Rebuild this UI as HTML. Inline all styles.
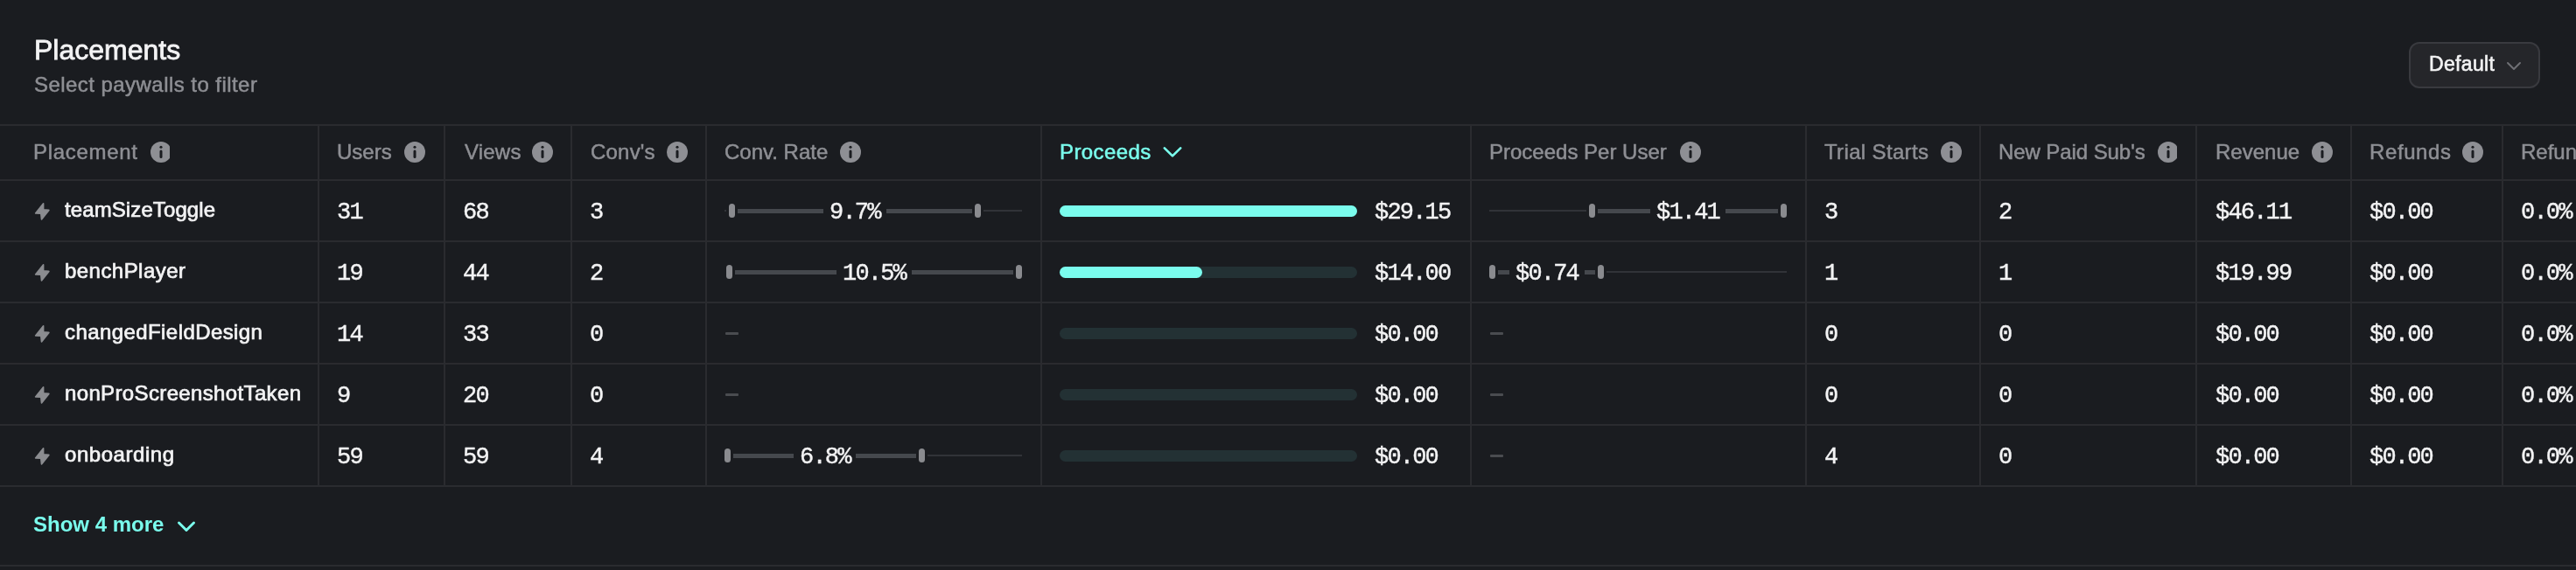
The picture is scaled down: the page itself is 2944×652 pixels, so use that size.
<!DOCTYPE html>
<html><head><meta charset="utf-8"><title>Placements</title>
<style>
html,body{margin:0;padding:0;background:#1a1c20;}
body{width:2944px;height:652px;overflow:hidden;position:relative;font-family:'Liberation Sans', sans-serif;}
.t{position:absolute;white-space:nowrap;will-change:transform;}
.r{position:absolute;display:block;}
</style></head><body>
<div class="t" style="left:38.5px;top:40.71px;font-size:32px;line-height:32px;color:#f3f3f4;font-family:'Liberation Sans', sans-serif;font-weight:normal;letter-spacing:0px;-webkit-text-stroke:0.8px #f3f3f4;">Placements</div>
<div class="t" style="left:38.5px;top:84.68px;font-size:24px;line-height:24px;color:#8e8f94;font-family:'Liberation Sans', sans-serif;font-weight:normal;letter-spacing:0.45px;-webkit-text-stroke:0.5px #8e8f94;">Select paywalls to filter</div>
<div class="r" style="left:2753px;top:48px;width:150px;height:53px;box-sizing:border-box;border:2px solid #393a3f;background:#25262a;border-radius:12px"></div>
<div class="t" style="left:2775.5px;top:61.93px;font-size:23px;line-height:23px;color:#f3f3f4;font-family:'Liberation Sans', sans-serif;font-weight:normal;letter-spacing:0.35px;-webkit-text-stroke:0.6px #f3f3f4;">Default</div>
<svg class="r" style="left:2862px;top:68px" width="22" height="16" viewBox="0 0 22 16"><polyline points="4,4 11,11 18,4" fill="none" stroke="#6e6f74" stroke-width="2" stroke-linecap="round" stroke-linejoin="round"/></svg>
<div class="r" style="left:0px;top:142px;width:2944px;height:2px;background:#2a2b2f;border-radius:0px;"></div>
<div class="r" style="left:0px;top:205px;width:2944px;height:2px;background:#2a2b2f;border-radius:0px;"></div>
<div class="r" style="left:0px;top:275px;width:2944px;height:2px;background:#2a2b2f;border-radius:0px;"></div>
<div class="r" style="left:0px;top:345px;width:2944px;height:2px;background:#2a2b2f;border-radius:0px;"></div>
<div class="r" style="left:0px;top:415px;width:2944px;height:2px;background:#2a2b2f;border-radius:0px;"></div>
<div class="r" style="left:0px;top:485px;width:2944px;height:2px;background:#2a2b2f;border-radius:0px;"></div>
<div class="r" style="left:0px;top:555px;width:2944px;height:2px;background:#2a2b2f;border-radius:0px;"></div>
<div class="r" style="left:0px;top:646px;width:2944px;height:2px;background:#2a2b2f;border-radius:0px;"></div>
<div class="r" style="left:363px;top:144px;width:2px;height:411px;background:#2a2b2f;border-radius:0px;"></div>
<div class="r" style="left:507px;top:144px;width:2px;height:411px;background:#2a2b2f;border-radius:0px;"></div>
<div class="r" style="left:652px;top:144px;width:2px;height:411px;background:#2a2b2f;border-radius:0px;"></div>
<div class="r" style="left:806px;top:144px;width:2px;height:411px;background:#2a2b2f;border-radius:0px;"></div>
<div class="r" style="left:1189px;top:144px;width:2px;height:411px;background:#2a2b2f;border-radius:0px;"></div>
<div class="r" style="left:1680px;top:144px;width:2px;height:411px;background:#2a2b2f;border-radius:0px;"></div>
<div class="r" style="left:2063px;top:144px;width:2px;height:411px;background:#2a2b2f;border-radius:0px;"></div>
<div class="r" style="left:2262px;top:144px;width:2px;height:411px;background:#2a2b2f;border-radius:0px;"></div>
<div class="r" style="left:2509px;top:144px;width:2px;height:411px;background:#2a2b2f;border-radius:0px;"></div>
<div class="r" style="left:2686px;top:144px;width:2px;height:411px;background:#2a2b2f;border-radius:0px;"></div>
<div class="r" style="left:2859px;top:144px;width:2px;height:411px;background:#2a2b2f;border-radius:0px;"></div>
<div class="t" style="left:38px;top:161.68px;font-size:24px;line-height:24px;color:#8e8f94;font-family:'Liberation Sans', sans-serif;font-weight:normal;letter-spacing:0.7px;-webkit-text-stroke:0.5px #8e8f94;">Placement</div>
<svg class="r" style="left:172px;top:162px" width="22" height="24" viewBox="0 0 22 24"><circle cx="12" cy="12" r="12" fill="#8e8f94"/><circle cx="12" cy="6.2" r="1.55" fill="#1a1c20"/><line x1="12" y1="11" x2="12" y2="17.5" stroke="#1a1c20" stroke-width="3" stroke-linecap="round"/></svg>
<div class="t" style="left:385px;top:161.68px;font-size:24px;line-height:24px;color:#8e8f94;font-family:'Liberation Sans', sans-serif;font-weight:normal;letter-spacing:0px;-webkit-text-stroke:0.5px #8e8f94;">Users</div>
<svg class="r" style="left:462px;top:162px" width="24" height="24" viewBox="0 0 24 24"><circle cx="12" cy="12" r="12" fill="#8e8f94"/><circle cx="12" cy="6.2" r="1.55" fill="#1a1c20"/><line x1="12" y1="11" x2="12" y2="17.5" stroke="#1a1c20" stroke-width="3" stroke-linecap="round"/></svg>
<div class="t" style="left:530.5px;top:161.68px;font-size:24px;line-height:24px;color:#8e8f94;font-family:'Liberation Sans', sans-serif;font-weight:normal;letter-spacing:0.2px;-webkit-text-stroke:0.5px #8e8f94;">Views</div>
<svg class="r" style="left:608px;top:162px" width="24" height="24" viewBox="0 0 24 24"><circle cx="12" cy="12" r="12" fill="#8e8f94"/><circle cx="12" cy="6.2" r="1.55" fill="#1a1c20"/><line x1="12" y1="11" x2="12" y2="17.5" stroke="#1a1c20" stroke-width="3" stroke-linecap="round"/></svg>
<div class="t" style="left:675px;top:161.68px;font-size:24px;line-height:24px;color:#8e8f94;font-family:'Liberation Sans', sans-serif;font-weight:normal;letter-spacing:0.2px;-webkit-text-stroke:0.5px #8e8f94;">Conv's</div>
<svg class="r" style="left:762px;top:162px" width="24" height="24" viewBox="0 0 24 24"><circle cx="12" cy="12" r="12" fill="#8e8f94"/><circle cx="12" cy="6.2" r="1.55" fill="#1a1c20"/><line x1="12" y1="11" x2="12" y2="17.5" stroke="#1a1c20" stroke-width="3" stroke-linecap="round"/></svg>
<div class="t" style="left:828px;top:161.68px;font-size:24px;line-height:24px;color:#8e8f94;font-family:'Liberation Sans', sans-serif;font-weight:normal;letter-spacing:0px;-webkit-text-stroke:0.5px #8e8f94;">Conv. Rate</div>
<svg class="r" style="left:960px;top:162px" width="24" height="24" viewBox="0 0 24 24"><circle cx="12" cy="12" r="12" fill="#8e8f94"/><circle cx="12" cy="6.2" r="1.55" fill="#1a1c20"/><line x1="12" y1="11" x2="12" y2="17.5" stroke="#1a1c20" stroke-width="3" stroke-linecap="round"/></svg>
<div class="t" style="left:1702px;top:161.68px;font-size:24px;line-height:24px;color:#8e8f94;font-family:'Liberation Sans', sans-serif;font-weight:normal;letter-spacing:0px;-webkit-text-stroke:0.5px #8e8f94;">Proceeds Per User</div>
<svg class="r" style="left:1920px;top:162px" width="24" height="24" viewBox="0 0 24 24"><circle cx="12" cy="12" r="12" fill="#8e8f94"/><circle cx="12" cy="6.2" r="1.55" fill="#1a1c20"/><line x1="12" y1="11" x2="12" y2="17.5" stroke="#1a1c20" stroke-width="3" stroke-linecap="round"/></svg>
<div class="t" style="left:2085px;top:161.68px;font-size:24px;line-height:24px;color:#8e8f94;font-family:'Liberation Sans', sans-serif;font-weight:normal;letter-spacing:0.35px;-webkit-text-stroke:0.5px #8e8f94;">Trial Starts</div>
<svg class="r" style="left:2218px;top:162px" width="24" height="24" viewBox="0 0 24 24"><circle cx="12" cy="12" r="12" fill="#8e8f94"/><circle cx="12" cy="6.2" r="1.55" fill="#1a1c20"/><line x1="12" y1="11" x2="12" y2="17.5" stroke="#1a1c20" stroke-width="3" stroke-linecap="round"/></svg>
<div class="t" style="left:2284px;top:161.68px;font-size:24px;line-height:24px;color:#8e8f94;font-family:'Liberation Sans', sans-serif;font-weight:normal;letter-spacing:-0.08px;-webkit-text-stroke:0.5px #8e8f94;">New Paid Sub's</div>
<svg class="r" style="left:2466px;top:162px" width="22" height="24" viewBox="0 0 22 24"><circle cx="12" cy="12" r="12" fill="#8e8f94"/><circle cx="12" cy="6.2" r="1.55" fill="#1a1c20"/><line x1="12" y1="11" x2="12" y2="17.5" stroke="#1a1c20" stroke-width="3" stroke-linecap="round"/></svg>
<div class="t" style="left:2532px;top:161.68px;font-size:24px;line-height:24px;color:#8e8f94;font-family:'Liberation Sans', sans-serif;font-weight:normal;letter-spacing:0px;-webkit-text-stroke:0.5px #8e8f94;">Revenue</div>
<svg class="r" style="left:2642px;top:162px" width="24" height="24" viewBox="0 0 24 24"><circle cx="12" cy="12" r="12" fill="#8e8f94"/><circle cx="12" cy="6.2" r="1.55" fill="#1a1c20"/><line x1="12" y1="11" x2="12" y2="17.5" stroke="#1a1c20" stroke-width="3" stroke-linecap="round"/></svg>
<div class="t" style="left:2708px;top:161.68px;font-size:24px;line-height:24px;color:#8e8f94;font-family:'Liberation Sans', sans-serif;font-weight:normal;letter-spacing:0.6px;-webkit-text-stroke:0.5px #8e8f94;">Refunds</div>
<svg class="r" style="left:2814px;top:162px" width="24" height="24" viewBox="0 0 24 24"><circle cx="12" cy="12" r="12" fill="#8e8f94"/><circle cx="12" cy="6.2" r="1.55" fill="#1a1c20"/><line x1="12" y1="11" x2="12" y2="17.5" stroke="#1a1c20" stroke-width="3" stroke-linecap="round"/></svg>
<div class="t" style="left:2881px;top:161.68px;font-size:24px;line-height:24px;color:#8e8f94;font-family:'Liberation Sans', sans-serif;font-weight:normal;letter-spacing:0px;-webkit-text-stroke:0.5px #8e8f94;">Refunds Rate</div>
<div class="t" style="left:1211px;top:161.68px;font-size:24px;line-height:24px;color:#7afced;font-family:'Liberation Sans', sans-serif;font-weight:normal;letter-spacing:0.4px;-webkit-text-stroke:0.5px #7afced;">Proceeds</div>
<svg class="r" style="left:1326px;top:164px" width="28" height="20" viewBox="0 0 28 20"><polyline points="4.8,5.4 14,14.4 23.2,5.4" fill="none" stroke="#7afced" stroke-width="2.7" stroke-linecap="round" stroke-linejoin="round"/></svg>
<svg class="r" style="left:34px;top:226px" width="24" height="26" viewBox="0 0 24 26"><polygon points="15.6,6.8 6.6,17.9 12.8,18.3 13.5,25 21.9,14.4 15.6,13.8" fill="#8b8c90" stroke="#8b8c90" stroke-width="1.6" stroke-linejoin="round"/></svg>
<div class="t" style="left:73.5px;top:228.08px;font-size:24px;line-height:24px;color:#f3f3f4;font-family:'Liberation Sans', sans-serif;font-weight:normal;letter-spacing:0.1px;-webkit-text-stroke:0.7px #f3f3f4;">teamSizeToggle</div>
<div class="t" style="left:385px;top:229.52px;font-size:27px;line-height:27px;color:#f3f3f4;font-family:'Liberation Mono', monospace;font-weight:normal;letter-spacing:-1.8px;-webkit-text-stroke:0.4px #f3f3f4;">31</div>
<div class="t" style="left:529px;top:229.52px;font-size:27px;line-height:27px;color:#f3f3f4;font-family:'Liberation Mono', monospace;font-weight:normal;letter-spacing:-1.8px;-webkit-text-stroke:0.4px #f3f3f4;">68</div>
<div class="t" style="left:674px;top:229.52px;font-size:27px;line-height:27px;color:#f3f3f4;font-family:'Liberation Mono', monospace;font-weight:normal;letter-spacing:-1.8px;-webkit-text-stroke:0.4px #f3f3f4;">3</div>
<div class="t" style="left:2085px;top:229.52px;font-size:27px;line-height:27px;color:#f3f3f4;font-family:'Liberation Mono', monospace;font-weight:normal;letter-spacing:-1.8px;-webkit-text-stroke:0.4px #f3f3f4;">3</div>
<div class="t" style="left:2284px;top:229.52px;font-size:27px;line-height:27px;color:#f3f3f4;font-family:'Liberation Mono', monospace;font-weight:normal;letter-spacing:-1.8px;-webkit-text-stroke:0.4px #f3f3f4;">2</div>
<div class="t" style="left:2532px;top:229.52px;font-size:27px;line-height:27px;color:#f3f3f4;font-family:'Liberation Mono', monospace;font-weight:normal;letter-spacing:-1.8px;-webkit-text-stroke:0.4px #f3f3f4;">$46.11</div>
<div class="t" style="left:2708px;top:229.52px;font-size:27px;line-height:27px;color:#f3f3f4;font-family:'Liberation Mono', monospace;font-weight:normal;letter-spacing:-1.8px;-webkit-text-stroke:0.4px #f3f3f4;">$0.00</div>
<div class="t" style="left:2881px;top:229.52px;font-size:27px;line-height:27px;color:#f3f3f4;font-family:'Liberation Mono', monospace;font-weight:normal;letter-spacing:-1.8px;-webkit-text-stroke:0.4px #f3f3f4;">0.0%</div>
<div class="r" style="left:1211px;top:234.5px;width:340px;height:13px;background:#233134;border-radius:6.5px;"></div>
<div class="r" style="left:1211px;top:234.5px;width:340px;height:13px;background:#7afced;border-radius:6.5px;"></div>
<div class="t" style="left:1571px;top:229.52px;font-size:27px;line-height:27px;color:#f3f3f4;font-family:'Liberation Mono', monospace;font-weight:normal;letter-spacing:-1.8px;-webkit-text-stroke:0.4px #f3f3f4;">$29.15</div>
<svg class="r" style="left:34px;top:296px" width="24" height="26" viewBox="0 0 24 26"><polygon points="15.6,6.8 6.6,17.9 12.8,18.3 13.5,25 21.9,14.4 15.6,13.8" fill="#8b8c90" stroke="#8b8c90" stroke-width="1.6" stroke-linejoin="round"/></svg>
<div class="t" style="left:73.5px;top:298.08px;font-size:24px;line-height:24px;color:#f3f3f4;font-family:'Liberation Sans', sans-serif;font-weight:normal;letter-spacing:0.45px;-webkit-text-stroke:0.7px #f3f3f4;">benchPlayer</div>
<div class="t" style="left:385px;top:299.52px;font-size:27px;line-height:27px;color:#f3f3f4;font-family:'Liberation Mono', monospace;font-weight:normal;letter-spacing:-1.8px;-webkit-text-stroke:0.4px #f3f3f4;">19</div>
<div class="t" style="left:529px;top:299.52px;font-size:27px;line-height:27px;color:#f3f3f4;font-family:'Liberation Mono', monospace;font-weight:normal;letter-spacing:-1.8px;-webkit-text-stroke:0.4px #f3f3f4;">44</div>
<div class="t" style="left:674px;top:299.52px;font-size:27px;line-height:27px;color:#f3f3f4;font-family:'Liberation Mono', monospace;font-weight:normal;letter-spacing:-1.8px;-webkit-text-stroke:0.4px #f3f3f4;">2</div>
<div class="t" style="left:2085px;top:299.52px;font-size:27px;line-height:27px;color:#f3f3f4;font-family:'Liberation Mono', monospace;font-weight:normal;letter-spacing:-1.8px;-webkit-text-stroke:0.4px #f3f3f4;">1</div>
<div class="t" style="left:2284px;top:299.52px;font-size:27px;line-height:27px;color:#f3f3f4;font-family:'Liberation Mono', monospace;font-weight:normal;letter-spacing:-1.8px;-webkit-text-stroke:0.4px #f3f3f4;">1</div>
<div class="t" style="left:2532px;top:299.52px;font-size:27px;line-height:27px;color:#f3f3f4;font-family:'Liberation Mono', monospace;font-weight:normal;letter-spacing:-1.8px;-webkit-text-stroke:0.4px #f3f3f4;">$19.99</div>
<div class="t" style="left:2708px;top:299.52px;font-size:27px;line-height:27px;color:#f3f3f4;font-family:'Liberation Mono', monospace;font-weight:normal;letter-spacing:-1.8px;-webkit-text-stroke:0.4px #f3f3f4;">$0.00</div>
<div class="t" style="left:2881px;top:299.52px;font-size:27px;line-height:27px;color:#f3f3f4;font-family:'Liberation Mono', monospace;font-weight:normal;letter-spacing:-1.8px;-webkit-text-stroke:0.4px #f3f3f4;">0.0%</div>
<div class="r" style="left:1211px;top:304.5px;width:340px;height:13px;background:#233134;border-radius:6.5px;"></div>
<div class="r" style="left:1211px;top:304.5px;width:163px;height:13px;background:#7afced;border-radius:6.5px;"></div>
<div class="t" style="left:1571px;top:299.52px;font-size:27px;line-height:27px;color:#f3f3f4;font-family:'Liberation Mono', monospace;font-weight:normal;letter-spacing:-1.8px;-webkit-text-stroke:0.4px #f3f3f4;">$14.00</div>
<svg class="r" style="left:34px;top:366px" width="24" height="26" viewBox="0 0 24 26"><polygon points="15.6,6.8 6.6,17.9 12.8,18.3 13.5,25 21.9,14.4 15.6,13.8" fill="#8b8c90" stroke="#8b8c90" stroke-width="1.6" stroke-linejoin="round"/></svg>
<div class="t" style="left:73.5px;top:368.08px;font-size:24px;line-height:24px;color:#f3f3f4;font-family:'Liberation Sans', sans-serif;font-weight:normal;letter-spacing:0.42px;-webkit-text-stroke:0.7px #f3f3f4;">changedFieldDesign</div>
<div class="t" style="left:385px;top:369.52px;font-size:27px;line-height:27px;color:#f3f3f4;font-family:'Liberation Mono', monospace;font-weight:normal;letter-spacing:-1.8px;-webkit-text-stroke:0.4px #f3f3f4;">14</div>
<div class="t" style="left:529px;top:369.52px;font-size:27px;line-height:27px;color:#f3f3f4;font-family:'Liberation Mono', monospace;font-weight:normal;letter-spacing:-1.8px;-webkit-text-stroke:0.4px #f3f3f4;">33</div>
<div class="t" style="left:674px;top:369.52px;font-size:27px;line-height:27px;color:#f3f3f4;font-family:'Liberation Mono', monospace;font-weight:normal;letter-spacing:-1.8px;-webkit-text-stroke:0.4px #f3f3f4;">0</div>
<div class="t" style="left:2085px;top:369.52px;font-size:27px;line-height:27px;color:#f3f3f4;font-family:'Liberation Mono', monospace;font-weight:normal;letter-spacing:-1.8px;-webkit-text-stroke:0.4px #f3f3f4;">0</div>
<div class="t" style="left:2284px;top:369.52px;font-size:27px;line-height:27px;color:#f3f3f4;font-family:'Liberation Mono', monospace;font-weight:normal;letter-spacing:-1.8px;-webkit-text-stroke:0.4px #f3f3f4;">0</div>
<div class="t" style="left:2532px;top:369.52px;font-size:27px;line-height:27px;color:#f3f3f4;font-family:'Liberation Mono', monospace;font-weight:normal;letter-spacing:-1.8px;-webkit-text-stroke:0.4px #f3f3f4;">$0.00</div>
<div class="t" style="left:2708px;top:369.52px;font-size:27px;line-height:27px;color:#f3f3f4;font-family:'Liberation Mono', monospace;font-weight:normal;letter-spacing:-1.8px;-webkit-text-stroke:0.4px #f3f3f4;">$0.00</div>
<div class="t" style="left:2881px;top:369.52px;font-size:27px;line-height:27px;color:#f3f3f4;font-family:'Liberation Mono', monospace;font-weight:normal;letter-spacing:-1.8px;-webkit-text-stroke:0.4px #f3f3f4;">0.0%</div>
<div class="r" style="left:1211px;top:374.5px;width:340px;height:13px;background:#233134;border-radius:6.5px;"></div>
<div class="t" style="left:1571px;top:369.52px;font-size:27px;line-height:27px;color:#f3f3f4;font-family:'Liberation Mono', monospace;font-weight:normal;letter-spacing:-1.8px;-webkit-text-stroke:0.4px #f3f3f4;">$0.00</div>
<svg class="r" style="left:34px;top:436px" width="24" height="26" viewBox="0 0 24 26"><polygon points="15.6,6.8 6.6,17.9 12.8,18.3 13.5,25 21.9,14.4 15.6,13.8" fill="#8b8c90" stroke="#8b8c90" stroke-width="1.6" stroke-linejoin="round"/></svg>
<div class="t" style="left:73.5px;top:438.08px;font-size:24px;line-height:24px;color:#f3f3f4;font-family:'Liberation Sans', sans-serif;font-weight:normal;letter-spacing:0.36px;-webkit-text-stroke:0.7px #f3f3f4;">nonProScreenshotTaken</div>
<div class="t" style="left:385px;top:439.52px;font-size:27px;line-height:27px;color:#f3f3f4;font-family:'Liberation Mono', monospace;font-weight:normal;letter-spacing:-1.8px;-webkit-text-stroke:0.4px #f3f3f4;">9</div>
<div class="t" style="left:529px;top:439.52px;font-size:27px;line-height:27px;color:#f3f3f4;font-family:'Liberation Mono', monospace;font-weight:normal;letter-spacing:-1.8px;-webkit-text-stroke:0.4px #f3f3f4;">20</div>
<div class="t" style="left:674px;top:439.52px;font-size:27px;line-height:27px;color:#f3f3f4;font-family:'Liberation Mono', monospace;font-weight:normal;letter-spacing:-1.8px;-webkit-text-stroke:0.4px #f3f3f4;">0</div>
<div class="t" style="left:2085px;top:439.52px;font-size:27px;line-height:27px;color:#f3f3f4;font-family:'Liberation Mono', monospace;font-weight:normal;letter-spacing:-1.8px;-webkit-text-stroke:0.4px #f3f3f4;">0</div>
<div class="t" style="left:2284px;top:439.52px;font-size:27px;line-height:27px;color:#f3f3f4;font-family:'Liberation Mono', monospace;font-weight:normal;letter-spacing:-1.8px;-webkit-text-stroke:0.4px #f3f3f4;">0</div>
<div class="t" style="left:2532px;top:439.52px;font-size:27px;line-height:27px;color:#f3f3f4;font-family:'Liberation Mono', monospace;font-weight:normal;letter-spacing:-1.8px;-webkit-text-stroke:0.4px #f3f3f4;">$0.00</div>
<div class="t" style="left:2708px;top:439.52px;font-size:27px;line-height:27px;color:#f3f3f4;font-family:'Liberation Mono', monospace;font-weight:normal;letter-spacing:-1.8px;-webkit-text-stroke:0.4px #f3f3f4;">$0.00</div>
<div class="t" style="left:2881px;top:439.52px;font-size:27px;line-height:27px;color:#f3f3f4;font-family:'Liberation Mono', monospace;font-weight:normal;letter-spacing:-1.8px;-webkit-text-stroke:0.4px #f3f3f4;">0.0%</div>
<div class="r" style="left:1211px;top:444.5px;width:340px;height:13px;background:#233134;border-radius:6.5px;"></div>
<div class="t" style="left:1571px;top:439.52px;font-size:27px;line-height:27px;color:#f3f3f4;font-family:'Liberation Mono', monospace;font-weight:normal;letter-spacing:-1.8px;-webkit-text-stroke:0.4px #f3f3f4;">$0.00</div>
<svg class="r" style="left:34px;top:506px" width="24" height="26" viewBox="0 0 24 26"><polygon points="15.6,6.8 6.6,17.9 12.8,18.3 13.5,25 21.9,14.4 15.6,13.8" fill="#8b8c90" stroke="#8b8c90" stroke-width="1.6" stroke-linejoin="round"/></svg>
<div class="t" style="left:73.5px;top:508.08px;font-size:24px;line-height:24px;color:#f3f3f4;font-family:'Liberation Sans', sans-serif;font-weight:normal;letter-spacing:0.55px;-webkit-text-stroke:0.7px #f3f3f4;">onboarding</div>
<div class="t" style="left:385px;top:509.52px;font-size:27px;line-height:27px;color:#f3f3f4;font-family:'Liberation Mono', monospace;font-weight:normal;letter-spacing:-1.8px;-webkit-text-stroke:0.4px #f3f3f4;">59</div>
<div class="t" style="left:529px;top:509.52px;font-size:27px;line-height:27px;color:#f3f3f4;font-family:'Liberation Mono', monospace;font-weight:normal;letter-spacing:-1.8px;-webkit-text-stroke:0.4px #f3f3f4;">59</div>
<div class="t" style="left:674px;top:509.52px;font-size:27px;line-height:27px;color:#f3f3f4;font-family:'Liberation Mono', monospace;font-weight:normal;letter-spacing:-1.8px;-webkit-text-stroke:0.4px #f3f3f4;">4</div>
<div class="t" style="left:2085px;top:509.52px;font-size:27px;line-height:27px;color:#f3f3f4;font-family:'Liberation Mono', monospace;font-weight:normal;letter-spacing:-1.8px;-webkit-text-stroke:0.4px #f3f3f4;">4</div>
<div class="t" style="left:2284px;top:509.52px;font-size:27px;line-height:27px;color:#f3f3f4;font-family:'Liberation Mono', monospace;font-weight:normal;letter-spacing:-1.8px;-webkit-text-stroke:0.4px #f3f3f4;">0</div>
<div class="t" style="left:2532px;top:509.52px;font-size:27px;line-height:27px;color:#f3f3f4;font-family:'Liberation Mono', monospace;font-weight:normal;letter-spacing:-1.8px;-webkit-text-stroke:0.4px #f3f3f4;">$0.00</div>
<div class="t" style="left:2708px;top:509.52px;font-size:27px;line-height:27px;color:#f3f3f4;font-family:'Liberation Mono', monospace;font-weight:normal;letter-spacing:-1.8px;-webkit-text-stroke:0.4px #f3f3f4;">$0.00</div>
<div class="t" style="left:2881px;top:509.52px;font-size:27px;line-height:27px;color:#f3f3f4;font-family:'Liberation Mono', monospace;font-weight:normal;letter-spacing:-1.8px;-webkit-text-stroke:0.4px #f3f3f4;">0.0%</div>
<div class="r" style="left:1211px;top:514.5px;width:340px;height:13px;background:#233134;border-radius:6.5px;"></div>
<div class="t" style="left:1571px;top:509.52px;font-size:27px;line-height:27px;color:#f3f3f4;font-family:'Liberation Mono', monospace;font-weight:normal;letter-spacing:-1.8px;-webkit-text-stroke:0.4px #f3f3f4;">$0.00</div>
<div class="r" style="left:828px;top:240px;width:340px;height:2px;background:#313338;border-radius:0px;"></div>
<div class="r" style="left:830px;top:237px;width:294px;height:8px;background:#1a1c20;border-radius:0px;"></div>
<div class="r" style="left:843px;top:238.5px;width:98.20000000000005px;height:5px;background:#45484d;border-radius:0px;"></div>
<div class="r" style="left:1012.8000000000001px;top:238.5px;width:98.19999999999993px;height:5px;background:#45484d;border-radius:0px;"></div>
<div class="r" style="left:833px;top:233.0px;width:7px;height:16px;background:#8a8b8f;border-radius:3.5px;"></div>
<div class="r" style="left:1114px;top:233.0px;width:7px;height:16px;background:#8a8b8f;border-radius:3.5px;"></div>
<div class="t" style="left:948.2px;top:229.52px;font-size:27px;line-height:27px;color:#f3f3f4;font-family:'Liberation Mono', monospace;font-weight:normal;letter-spacing:-1.8px;-webkit-text-stroke:0.4px #f3f3f4;">9.7%</div>
<div class="r" style="left:828px;top:310px;width:340px;height:2px;background:#313338;border-radius:0px;"></div>
<div class="r" style="left:827px;top:307px;width:344px;height:8px;background:#1a1c20;border-radius:0px;"></div>
<div class="r" style="left:840px;top:308.5px;width:116.0px;height:5px;background:#45484d;border-radius:0px;"></div>
<div class="r" style="left:1042.0px;top:308.5px;width:116.0px;height:5px;background:#45484d;border-radius:0px;"></div>
<div class="r" style="left:830px;top:303.0px;width:7px;height:16px;background:#8a8b8f;border-radius:3.5px;"></div>
<div class="r" style="left:1161px;top:303.0px;width:7px;height:16px;background:#8a8b8f;border-radius:3.5px;"></div>
<div class="t" style="left:963.0px;top:299.52px;font-size:27px;line-height:27px;color:#f3f3f4;font-family:'Liberation Mono', monospace;font-weight:normal;letter-spacing:-1.8px;-webkit-text-stroke:0.4px #f3f3f4;">10.5%</div>
<div class="r" style="left:829px;top:380px;width:15px;height:2.5px;background:#4a4c50;border-radius:1px;"></div>
<div class="r" style="left:829px;top:450px;width:15px;height:2.5px;background:#4a4c50;border-radius:1px;"></div>
<div class="r" style="left:828px;top:520px;width:340px;height:2px;background:#313338;border-radius:0px;"></div>
<div class="r" style="left:825px;top:517px;width:235px;height:8px;background:#1a1c20;border-radius:0px;"></div>
<div class="r" style="left:838px;top:518.5px;width:68.70000000000005px;height:5px;background:#45484d;border-radius:0px;"></div>
<div class="r" style="left:978.3000000000001px;top:518.5px;width:68.69999999999993px;height:5px;background:#45484d;border-radius:0px;"></div>
<div class="r" style="left:828px;top:513.0px;width:7px;height:16px;background:#8a8b8f;border-radius:3.5px;"></div>
<div class="r" style="left:1050px;top:513.0px;width:7px;height:16px;background:#8a8b8f;border-radius:3.5px;"></div>
<div class="t" style="left:913.7px;top:509.52px;font-size:27px;line-height:27px;color:#f3f3f4;font-family:'Liberation Mono', monospace;font-weight:normal;letter-spacing:-1.8px;-webkit-text-stroke:0.4px #f3f3f4;">6.8%</div>
<div class="r" style="left:1702px;top:240px;width:340px;height:2px;background:#313338;border-radius:0px;"></div>
<div class="r" style="left:1813px;top:237px;width:232px;height:8px;background:#1a1c20;border-radius:0px;"></div>
<div class="r" style="left:1826px;top:238.5px;width:60.0px;height:5px;background:#45484d;border-radius:0px;"></div>
<div class="r" style="left:1972.0px;top:238.5px;width:60.0px;height:5px;background:#45484d;border-radius:0px;"></div>
<div class="r" style="left:1816px;top:233.0px;width:7px;height:16px;background:#8a8b8f;border-radius:3.5px;"></div>
<div class="r" style="left:2035px;top:233.0px;width:7px;height:16px;background:#8a8b8f;border-radius:3.5px;"></div>
<div class="t" style="left:1893.0px;top:229.52px;font-size:27px;line-height:27px;color:#f3f3f4;font-family:'Liberation Mono', monospace;font-weight:normal;letter-spacing:-1.8px;-webkit-text-stroke:0.4px #f3f3f4;">$1.41</div>
<div class="r" style="left:1702px;top:310px;width:340px;height:2px;background:#313338;border-radius:0px;"></div>
<div class="r" style="left:1699px;top:307px;width:137px;height:8px;background:#1a1c20;border-radius:0px;"></div>
<div class="r" style="left:1712px;top:308.5px;width:12.5px;height:5px;background:#45484d;border-radius:0px;"></div>
<div class="r" style="left:1810.5px;top:308.5px;width:12.5px;height:5px;background:#45484d;border-radius:0px;"></div>
<div class="r" style="left:1702px;top:303.0px;width:7px;height:16px;background:#8a8b8f;border-radius:3.5px;"></div>
<div class="r" style="left:1826px;top:303.0px;width:7px;height:16px;background:#8a8b8f;border-radius:3.5px;"></div>
<div class="t" style="left:1731.5px;top:299.52px;font-size:27px;line-height:27px;color:#f3f3f4;font-family:'Liberation Mono', monospace;font-weight:normal;letter-spacing:-1.8px;-webkit-text-stroke:0.4px #f3f3f4;">$0.74</div>
<div class="r" style="left:1703px;top:380px;width:15px;height:2.5px;background:#4a4c50;border-radius:1px;"></div>
<div class="r" style="left:1703px;top:450px;width:15px;height:2.5px;background:#4a4c50;border-radius:1px;"></div>
<div class="r" style="left:1703px;top:520px;width:15px;height:2.5px;background:#4a4c50;border-radius:1px;"></div>
<div class="t" style="left:38px;top:587.88px;font-size:24px;line-height:24px;color:#7afced;font-family:'Liberation Sans', sans-serif;font-weight:bold;letter-spacing:0px;">Show 4 more</div>
<svg class="r" style="left:199.5px;top:593px" width="28" height="20" viewBox="0 0 28 20"><polyline points="4.5,5 13,13.5 21.5,5" fill="none" stroke="#7afced" stroke-width="3" stroke-linecap="round" stroke-linejoin="round"/></svg>
</body></html>
